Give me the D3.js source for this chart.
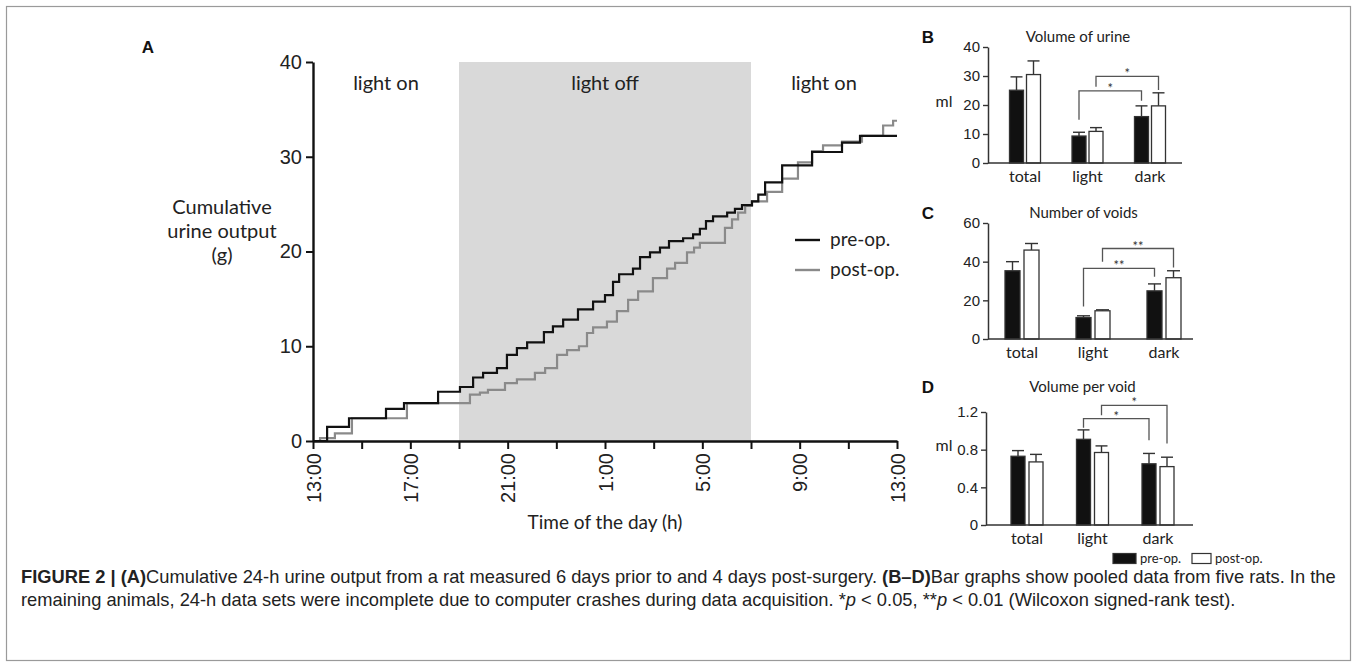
<!DOCTYPE html>
<html>
<head>
<meta charset="utf-8">
<script src="https://cdn.jsdelivr.net/npm/d3@7"></script>
<style>
  body { margin: 0; background: #fff; }
  svg { display: block; font-family: Lato, "Open Sans", sans-serif; }
</style>
</head>
<body>
<svg width="1357" height="662"></svg>
<script>
// ---- panel A : cumulative output, [hours after 13:00, grams] (step after)
var preOp = [[0,0],[0.58,1.5],[1.48,2.4],[3.0,3.4],[3.74,4.0],[5.14,5.2],[6.04,5.7],
  [6.58,6.7],[6.99,7.2],[7.56,7.7],[7.97,9.1],[8.38,9.8],[8.8,10.4],[9.49,11.5],
  [9.86,12.1],[10.28,12.8],[10.89,13.9],[11.51,14.7],[12.0,15.4],[12.33,16.8],
  [12.58,17.6],[13.15,18.2],[13.44,19.4],[13.85,19.9],[14.26,20.4],[14.63,21.1],
  [15.21,21.4],[15.62,21.8],[15.9,22.4],[16.15,23.2],[16.44,23.7],[17.02,24.1],
  [17.34,24.5],[17.63,24.9],[18.04,25.3],[18.3,26.0],[18.58,27.3],[19.28,29.1],
  [20.51,30.5],[21.74,31.5],[22.48,32.2],[24,32.2]];
var postOp = [[0,0],[0.29,0.3],[0.9,0.8],[1.6,2.4],[3.86,4.0],[6.45,4.9],[6.86,5.1],
  [7.19,5.4],[7.89,6.1],[8.38,6.5],[9.12,7.2],[9.54,7.7],[10.03,9.1],[10.44,9.6],
  [10.93,10.0],[11.26,11.4],[11.51,12.0],[12.08,12.6],[12.49,13.7],[12.95,14.9],
  [13.36,15.8],[13.97,17.2],[14.55,18.2],[14.88,18.8],[15.37,19.9],[15.66,20.4],
  [15.9,20.9],[16.93,22.5],[17.22,23.4],[17.47,24.1],[17.76,24.8],[18.04,25.3],
  [18.66,26.3],[19.28,27.7],[19.93,29.4],[20.51,30.6],[20.96,31.2],[21.74,31.6],
  [22.56,32.2],[23.43,33.3],[23.84,33.8],[24,33.8]];
var hourTicks = d3.range(0, 25, 2);
var hourLabels = ["13:00", "17:00", "21:00", "1:00", "5:00", "9:00", "13:00"];
var gramTicks = [0, 10, 20, 30, 40];
var periods = [
  {from: 0, to: 6, label: "light on", dark: false},
  {from: 6, to: 18, label: "light off", dark: true},
  {from: 18, to: 24, label: "light on", dark: false}
];

// ---- panels B-D : means and SEM, order = categories
var categories = ["total", "light", "dark"];
var seriesNames = ["pre-op.", "post-op."];

var volPre = [25.1, 9.3, 16.0],   volPreSem = [4.6, 1.3, 3.7];
var volPost = [30.5, 10.9, 19.7], volPostSem = [4.7, 1.3, 4.5];
var volTicks = [0, 10, 20, 30, 40];
// [from cat, from series, to cat, to series, top, left leg end, right leg end, mark]
var volSig = [["light", 0, "dark", 0, 24.9, 14.9, 21.5, "*"],
              ["light", 1, "dark", 1, 29.9, 26.3, 25.2, "*"]];

var voidPre = [35.3, 11.1, 24.9],  voidPreSem = [4.7, 0.9, 3.6];
var voidPost = [46.0, 14.6, 31.7], voidPostSem = [3.4, 0.5, 3.6];
var voidTicks = [0, 20, 40, 60];
var voidSig = [["light", 0, "dark", 0, 36.5, 16.8, 32.2, "**"],
               ["light", 1, "dark", 1, 46.8, 40.0, 37.0, "**"]];

var vpvPre = [0.73, 0.91, 0.65],  vpvPreSem = [0.06, 0.10, 0.11];
var vpvPost = [0.67, 0.77, 0.62], vpvPostSem = [0.08, 0.07, 0.10];
var vpvTicks = [0, 0.4, 0.8, 1.2];
var vpvSig = [["light", 0, "dark", 0, 1.13, 1.034, 0.90, "*"],
              ["light", 1, "dark", 1, 1.27, 1.165, 0.865, "*"]];

var captionLines = [
  [{t: "FIGURE 2 | (A)", b: 1}, {t: "Cumulative 24-h urine output from a rat measured 6 days prior to and 4 days post-surgery. "},
   {t: "(B\u2013D)", b: 1}, {t: "Bar graphs show pooled data from five rats. In the"}],
  [{t: "remaining animals, 24-h data sets were incomplete due to computer crashes during data acquisition. *"},
   {t: "p", i: 1}, {t: " < 0.05, **"}, {t: "p", i: 1}, {t: " < 0.01 (Wilcoxon signed-rank test)."}]
];

var svg = d3.select("svg");
var ink = "#222";

// frame
svg.append("rect")
  .attr("x", 6.5).attr("y", 6.5).attr("width", 1344).attr("height", 654)
  .attr("fill", "none").attr("stroke", "#9a9a9a").attr("stroke-width", 1.2);

// ================= panel A
var x = d3.scaleLinear().domain([0, 24]).range([313, 897]);
var y = d3.scaleLinear().domain([0, 40]).range([441, 62]);

var gA = svg.append("g");

gA.selectAll("rect.period")
  .data(periods.filter(function(p) { return p.dark; }))
  .enter().append("rect")
  .attr("class", "period")
  .attr("x", function(p) { return x(p.from); })
  .attr("width", function(p) { return x(p.to) - x(p.from); })
  .attr("y", y(40))
  .attr("height", y(0) - y(40))
  .attr("fill", "#d9d9d9");

gA.selectAll("text.period")
  .data(periods)
  .enter().append("text")
  .attr("class", "period")
  .attr("x", function(p) { return (x(p.from) + x(p.to)) / 2; })
  .attr("y", 90)
  .attr("text-anchor", "middle")
  .attr("font-size", 20)
  .attr("fill", ink)
  .text(function(p) { return p.label; });

var step = d3.line()
  .x(function(d) { return x(d[0]); })
  .y(function(d) { return y(d[1]); })
  .curve(d3.curveStepAfter);

gA.append("path").datum(postOp)
  .attr("d", step).attr("fill", "none")
  .attr("stroke", "#8a8a8a").attr("stroke-width", 2.2);
gA.append("path").datum(preOp)
  .attr("d", step).attr("fill", "none")
  .attr("stroke", "#111").attr("stroke-width", 2.2);

var yAxisA = gA.append("g")
  .attr("transform", "translate(313,0)")
  .call(d3.axisLeft(y).tickValues(gramTicks).tickSize(7).tickSizeOuter(0).tickPadding(4));
var xAxisA = gA.append("g")
  .attr("transform", "translate(0,441)")
  .call(d3.axisBottom(x).tickValues(hourTicks).tickSize(8).tickSizeOuter(0)
    .tickFormat(function(d) { return d % 4 === 0 ? hourLabels[d / 4] : ""; }));

[yAxisA, xAxisA].forEach(function(a) {
  a.select(".domain").attr("stroke", "#111").attr("stroke-width", 2.4);
  a.selectAll(".tick line").attr("stroke", "#111").attr("stroke-width", 2);
  a.selectAll("text").attr("font-size", 20).attr("fill", ink).attr("font-family", null);
});
xAxisA.selectAll("text")
  .attr("transform", "rotate(-90)")
  .attr("x", -12).attr("y", 0).attr("dy", "0.36em")
  .attr("text-anchor", "end");

gA.append("text")
  .attr("x", 605).attr("y", 529)
  .attr("text-anchor", "middle").attr("font-size", 19).attr("fill", ink)
  .text("Time of the day (h)");

gA.append("text")
  .attr("text-anchor", "middle").attr("font-size", 20).attr("fill", ink)
  .selectAll("tspan")
  .data(["Cumulative", "urine output", "(g)"])
  .enter().append("tspan")
  .attr("x", 222)
  .attr("y", function(d, i) { return 214 + i * 24; })
  .text(function(d) { return d; });

gA.append("text")
  .attr("x", 148).attr("y", 53)
  .attr("font-family", "Liberation Sans, Arial, sans-serif")
  .attr("font-weight", "bold").attr("font-size", 17).attr("fill", "#111")
  .attr("text-anchor", "middle")
  .text("A");

// legend A
var legA = gA.append("g");
[{name: "pre-op.", c: "#111", y: 240}, {name: "post-op.", c: "#8a8a8a", y: 270}].forEach(function(l) {
  legA.append("line").attr("x1", 795).attr("x2", 820).attr("y1", l.y).attr("y2", l.y)
    .attr("stroke", l.c).attr("stroke-width", 2.4);
  legA.append("text").attr("x", 830).attr("y", l.y).attr("dy", "0.33em")
    .attr("font-size", 19).attr("fill", ink).text(l.name);
});

// ================= panels B-D
function barPanel(cfg) {
  var g = svg.append("g");
  var ys = d3.scaleLinear().domain(cfg.domain).range(cfg.yRange);
  var xc = d3.scalePoint().domain(categories).range(cfg.centers);
  var half = cfg.barW + cfg.gap / 2;
  function barX(cat, s) { return xc(cat) - half + s * (cfg.barW + cfg.gap); }

  var rows = [];
  categories.forEach(function(c, i) {
    rows.push({cat: c, s: 0, v: cfg.pre[i], e: cfg.preSem[i]});
    rows.push({cat: c, s: 1, v: cfg.post[i], e: cfg.postSem[i]});
  });

  // error bars (upward only)
  var eb = g.selectAll("g.err").data(rows).enter().append("g").attr("class", "err");
  eb.append("line")
    .attr("x1", function(d) { return barX(d.cat, d.s) + cfg.barW / 2; })
    .attr("x2", function(d) { return barX(d.cat, d.s) + cfg.barW / 2; })
    .attr("y1", function(d) { return ys(d.v); })
    .attr("y2", function(d) { return ys(d.v + d.e); })
    .attr("stroke", "#333").attr("stroke-width", 1.4);
  eb.append("line")
    .attr("x1", function(d) { return barX(d.cat, d.s) + 1; })
    .attr("x2", function(d) { return barX(d.cat, d.s) + cfg.barW - 1; })
    .attr("y1", function(d) { return ys(d.v + d.e); })
    .attr("y2", function(d) { return ys(d.v + d.e); })
    .attr("stroke", "#333").attr("stroke-width", 1.4);

  g.selectAll("rect.bar").data(rows).enter().append("rect")
    .attr("class", "bar")
    .attr("x", function(d) { return barX(d.cat, d.s); })
    .attr("width", cfg.barW)
    .attr("y", function(d) { return ys(d.v); })
    .attr("height", function(d) { return ys(0) - ys(d.v); })
    .attr("fill", function(d) { return d.s === 0 ? "#111" : "#fff"; })
    .attr("stroke", "#333").attr("stroke-width", 1.3);

  // significance brackets
  g.selectAll("path.sig").data(cfg.sig).enter().append("path")
    .attr("class", "sig")
    .attr("d", function(b) {
      var x1 = barX(b[0], b[1]) + cfg.barW / 2, x2 = barX(b[2], b[3]) + cfg.barW / 2;
      return "M" + x1 + "," + ys(b[5]) + "V" + ys(b[4]) + "H" + x2 + "V" + ys(b[6]);
    })
    .attr("fill", "none").attr("stroke", "#555").attr("stroke-width", 1.3);
  g.selectAll("text.sig").data(cfg.sig).enter().append("text")
    .attr("class", "sig")
    .attr("x", function(b) { return (barX(b[0], b[1]) + barX(b[2], b[3])) / 2 + cfg.barW / 2; })
    .attr("y", function(b) { return ys(b[4]) + 2; })
    .attr("text-anchor", "middle").attr("font-size", 13).attr("fill", "#333")
    .text(function(b) { return b[7]; });

  // axes
  var ya = g.append("g")
    .attr("transform", "translate(" + cfg.axisX + ",0)")
    .call(d3.axisLeft(ys).tickValues(cfg.ticks).tickSize(5).tickSizeOuter(0).tickPadding(3)
      .tickFormat(function(d) { return d === 0 ? "0" : String(d); }));
  ya.select(".domain").attr("stroke", "#333").attr("stroke-width", 1.5);
  ya.selectAll(".tick line").attr("stroke", "#333").attr("stroke-width", 1.4);
  ya.selectAll("text").attr("font-size", 15).attr("fill", ink).attr("font-family", null);

  g.append("line")
    .attr("x1", cfg.axisX).attr("x2", cfg.axisEnd)
    .attr("y1", ys(0)).attr("y2", ys(0))
    .attr("stroke", "#333").attr("stroke-width", 1.5);

  g.selectAll("text.cat").data(categories).enter().append("text")
    .attr("class", "cat")
    .attr("x", function(c) { return xc(c); })
    .attr("y", ys(0) + 19)
    .attr("text-anchor", "middle").attr("font-size", 16).attr("fill", ink)
    .text(function(c) { return c; });

  g.append("text")
    .attr("x", (cfg.axisX + cfg.axisEnd) / 2 - 7).attr("y", cfg.titleY)
    .attr("text-anchor", "middle").attr("font-size", 15).attr("fill", ink)
    .text(cfg.title);

  g.append("text")
    .attr("x", 928).attr("y", cfg.titleY + 1)
    .attr("font-family", "Liberation Sans, Arial, sans-serif")
    .attr("font-weight", "bold").attr("font-size", 17).attr("fill", "#111")
    .attr("text-anchor", "middle")
    .text(cfg.letter);

  if (cfg.unit) {
    g.append("text")
      .attr("x", 944).attr("y", ys(cfg.unitAt)).attr("dy", "0.1em")
      .attr("text-anchor", "middle").attr("font-size", 16).attr("fill", ink)
      .text(cfg.unit);
  }
  return g;
}

barPanel({letter: "B", title: "Volume of urine", titleY: 42, domain: [0, 40], ticks: volTicks,
  yRange: [163, 47], axisX: 988, axisEnd: 1182, centers: [1025, 1150], barW: 14, gap: 3,
  pre: volPre, preSem: volPreSem, post: volPost, postSem: volPostSem, sig: volSig,
  unit: "ml", unitAt: 20});
barPanel({letter: "C", title: "Number of voids", titleY: 218, domain: [0, 60], ticks: voidTicks,
  yRange: [339, 223], axisX: 988, axisEnd: 1193, centers: [1022, 1164], barW: 15, gap: 4,
  pre: voidPre, preSem: voidPreSem, post: voidPost, postSem: voidPostSem, sig: voidSig});
barPanel({letter: "D", title: "Volume per void", titleY: 392, domain: [0, 1.2], ticks: vpvTicks,
  yRange: [525, 412], axisX: 986, axisEnd: 1193, centers: [1027, 1158], barW: 14, gap: 4,
  pre: vpvPre, preSem: vpvPreSem, post: vpvPost, postSem: vpvPostSem, sig: vpvSig,
  unit: "ml", unitAt: 0.8});

// legend B-D
var legB = svg.append("g");
var legBox = [{x: 1113, w: 23}, {x: 1192, w: 19}];
seriesNames.forEach(function(n, i) {
  var lx = legBox[i].x;
  legB.append("rect").attr("x", lx).attr("y", 553.5).attr("width", legBox[i].w).attr("height", 10)
    .attr("fill", i ? "#fff" : "#111").attr("stroke", "#333").attr("stroke-width", 1.2);
  legB.append("text").attr("x", lx + legBox[i].w + 4).attr("y", 562.5)
    .attr("font-size", 13).attr("fill", ink).text(n);
});

// caption
var cap = svg.append("g")
  .attr("font-family", "'Liberation Sans', Arial, sans-serif")
  .attr("fill", "#222");
var capSize = 15;
var capTexts = captionLines.map(function(line, li) {
  var t = cap.append("text").attr("x", 21).attr("y", 583 + li * 23).attr("font-size", capSize);
  t.selectAll("tspan").data(line).enter().append("tspan")
    .attr("font-weight", function(s) { return s.b ? "bold" : null; })
    .attr("font-style", function(s) { return s.i ? "italic" : null; })
    .text(function(s) { return s.t; });
  return t;
});
var w0 = capTexts[0].node().getComputedTextLength();
capSize = capSize * 1315 / w0;
capTexts.forEach(function(t) { t.attr("font-size", capSize); });
</script>
</body>
</html>
